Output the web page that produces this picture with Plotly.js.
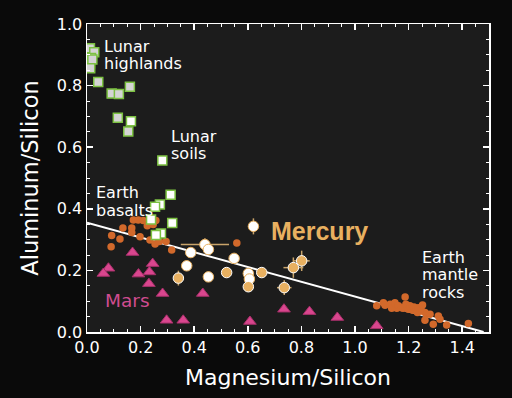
<!DOCTYPE html>
<html>
<head>
<meta charset="utf-8">
<script src="https://cdn.plot.ly/plotly-3.0.1.min.js"></script>
<style>html,body{margin:0;padding:0;background:#0a0a0a;}#chart{width:512px;height:398px;}</style>
</head>
<body>
<div id="chart"></div>
<script>
// ---- data (Mg/Si, Al/Si) ----
const trendX = [0, 1.48];
const trendY = [0.355, 0];

const lunarHighlandsX = [0.011, 0.027, 0.015, 0.011, 0.020, 0.012, 0.042, 0.092, 0.119, 0.160, 0.115, 0.154];
const lunarHighlandsY = [0.921, 0.908, 0.890, 0.872, 0.885, 0.856, 0.812, 0.774, 0.773, 0.796, 0.696, 0.651];

const lunarSoilsX = [0.164, 0.281, 0.312, 0.272, 0.254, 0.318, 0.239, 0.276, 0.257];
const lunarSoilsY = [0.684, 0.557, 0.446, 0.414, 0.407, 0.354, 0.365, 0.320, 0.315];

const earthBasaltsX = [0.090, 0.092, 0.123, 0.134, 0.167, 0.167, 0.173, 0.191, 0.198, 0.210, 0.225, 0.235, 0.247, 0.254, 0.257, 0.270, 0.295, 0.316, 0.559];
const earthBasaltsY = [0.277, 0.313, 0.302, 0.338, 0.338, 0.323, 0.364, 0.364, 0.309, 0.362, 0.345, 0.299, 0.349, 0.286, 0.362, 0.294, 0.294, 0.266, 0.289];

const earthMantleX = [1.081, 1.106, 1.112, 1.131, 1.137, 1.149, 1.156, 1.162, 1.174, 1.180, 1.187, 1.190, 1.199, 1.205, 1.212, 1.215, 1.220, 1.228, 1.233, 1.236, 1.249, 1.252, 1.261, 1.267, 1.280, 1.261, 1.292, 1.311, 1.317, 1.342, 1.423];
const earthMantleY = [0.085, 0.095, 0.087, 0.090, 0.077, 0.095, 0.077, 0.085, 0.079, 0.077, 0.114, 0.090, 0.074, 0.085, 0.079, 0.071, 0.081, 0.074, 0.063, 0.079, 0.068, 0.088, 0.063, 0.058, 0.058, 0.038, 0.025, 0.052, 0.041, 0.023, 0.028];

const marsX = [0.170, 0.080, 0.061, 0.245, 0.233, 0.192, 0.231, 0.282, 0.297, 0.359, 0.432, 0.608, 0.735, 0.830, 0.934, 1.081];
const marsY = [0.258, 0.207, 0.190, 0.222, 0.195, 0.188, 0.157, 0.125, 0.038, 0.038, 0.125, 0.034, 0.074, 0.066, 0.047, 0.020];

const mercuryWhiteX = [0.621, 0.440, 0.453, 0.387, 0.372, 0.549, 0.453, 0.602, 0.606];
const mercuryWhiteY = [0.343, 0.284, 0.268, 0.258, 0.215, 0.239, 0.179, 0.190, 0.172];
const mercuryWhiteErrX = [0, 0.09, 0, 0, 0, 0, 0, 0, 0];
const mercuryWhiteErrY = [0.026, 0.02, 0, 0, 0, 0, 0, 0, 0];

const mercuryOrangeX = [0.341, 0.521, 0.602, 0.652, 0.736, 0.770, 0.801];
const mercuryOrangeY = [0.175, 0.193, 0.147, 0.193, 0.144, 0.209, 0.231];
const mercuryOrangeErrX = [0, 0, 0, 0, 0.027, 0.037, 0.030];
const mercuryOrangeErrY = [0.024, 0, 0, 0, 0.024, 0.033, 0.033];

const xTickVals = [0, 0.2, 0.4, 0.6, 0.8, 1.0, 1.2, 1.4];
const xTickText = ['0.0', '0.2', '0.4', '0.6', '0.8', '1.0', '1.2', '1.4'];
const yTickVals = [0, 0.2, 0.4, 0.6, 0.8, 1.0];
const yTickText = ['0.0', '0.2', '0.4', '0.6', '0.8', '1.0'];

// ---- styles ----
const FONT = 'DejaVu Sans, Liberation Sans, Arial, sans-serif';
const GREEN = '#7cc142';
const EARTH = '#d2692b';
const MARS = '#d9468e';
const MERC = '#e8b060';
const ERR = '#c9a46a';

const traces = [
  {x: trendX, y: trendY, mode: 'lines', line: {color: '#ffffff', width: 2}, hoverinfo: 'skip'},
  {x: earthBasaltsX, y: earthBasaltsY, mode: 'markers', marker: {symbol: 'circle', size: 7.5, color: EARTH, line: {width: 0}}},
  {x: earthMantleX, y: earthMantleY, mode: 'markers', marker: {symbol: 'circle', size: 7.5, color: EARTH, line: {width: 0}}},
  {x: lunarHighlandsX, y: lunarHighlandsY, mode: 'markers', marker: {symbol: 'square', size: 9, color: '#d4d4d4', line: {color: GREEN, width: 1.5}}},
  {x: lunarSoilsX, y: lunarSoilsY, mode: 'markers', marker: {symbol: 'square', size: 9, color: '#ffffff', line: {color: GREEN, width: 1.5}}},
  {x: marsX, y: marsY, mode: 'markers', marker: {symbol: 'triangle-up', size: 11, color: MARS, line: {color: '#a8306a', width: 1}}},
  {x: mercuryWhiteX, y: mercuryWhiteY, mode: 'markers',
   error_x: {type: 'data', array: mercuryWhiteErrX, color: ERR, thickness: 1.5, width: 0},
   error_y: {type: 'data', array: mercuryWhiteErrY, color: ERR, thickness: 1.5, width: 0},
   marker: {symbol: 'circle', size: 10.5, color: '#ffffff', line: {color: MERC, width: 1}}},
  {x: mercuryOrangeX, y: mercuryOrangeY, mode: 'markers',
   error_x: {type: 'data', array: mercuryOrangeErrX, color: ERR, thickness: 1.5, width: 0},
   error_y: {type: 'data', array: mercuryOrangeErrY, color: ERR, thickness: 1.5, width: 0},
   marker: {symbol: 'circle', size: 10.5, color: MERC, line: {color: '#ffffff', width: 1}}}
];

function label(text, x, y, size, color, bold) {
  return {text: text, x: x, y: y, xref: 'x', yref: 'y', xanchor: 'left', yanchor: 'middle',
          showarrow: false, borderpad: 0,
          font: {family: bold ? 'Liberation Sans, Arial, sans-serif' : FONT, size: size, color: color, weight: bold ? 'bold' : 'normal'}};
}

const annotations = [
  label('Lunar', 0.058, 0.926, 16, '#ffffff'),
  label('highlands', 0.058, 0.872, 16, '#ffffff'),
  label('Lunar', 0.311, 0.636, 16, '#ffffff'),
  label('soils', 0.311, 0.580, 16, '#ffffff'),
  label('Earth', 0.029, 0.453, 16, '#ffffff'),
  label('basalts', 0.029, 0.396, 16, '#ffffff'),
  label('Earth', 1.248, 0.243, 16, '#ffffff'),
  label('mantle', 1.248, 0.186, 16, '#ffffff'),
  label('rocks', 1.248, 0.129, 16, '#ffffff'),
  label('Mercury', 0.682, 0.329, 25, MERC, true),
  label('Mars', 0.062, 0.101, 18.5, '#d04c90')
];

const axisCommon = {
  showgrid: false, zeroline: false, showline: true, linecolor: '#ffffff', linewidth: 1.5,
  mirror: 'allticks', ticks: 'inside', ticklen: 6, tickwidth: 1.5, tickcolor: '#ffffff',
  tickfont: {family: FONT, size: 16, color: '#ffffff'},
  minor: {dtick: 0.05, ticklen: 3, tickwidth: 1, tickcolor: '#ffffff', ticks: 'inside'}
};

const layout = {
  width: 512, height: 398,
  margin: {l: 87, r: 23, t: 24, b: 66, pad: 0},
  paper_bgcolor: '#0a0a0a', plot_bgcolor: '#1c1c1c',
  showlegend: false,
  xaxis: Object.assign({}, axisCommon, {
    range: [0, 1.5], tickmode: 'array', tickvals: xTickVals, ticktext: xTickText,
    title: {text: 'Magnesium/Silicon', font: {family: FONT, size: 22, color: '#ffffff'}, standoff: 14}
  }),
  yaxis: Object.assign({}, axisCommon, {
    range: [0, 1.0], tickmode: 'array', tickvals: yTickVals, ticktext: yTickText,
    title: {text: 'Aluminum/Silicon', font: {family: FONT, size: 22.5, color: '#ffffff'}, standoff: 12}
  }),
  annotations: annotations
};

Plotly.newPlot('chart', traces, layout, {displayModeBar: false, staticPlot: true});
</script>
</body>
</html>
